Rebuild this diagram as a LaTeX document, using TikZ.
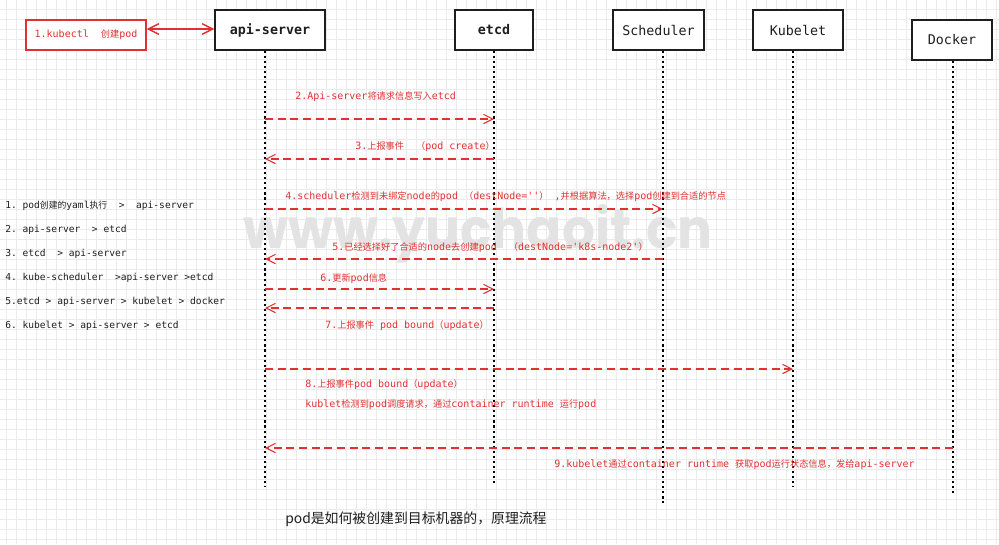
\documentclass[tikz,border=0pt]{standalone}
\usepackage{fontspec}
\setmonofont{DejaVu Sans Mono}
\newfontfamily\cjk{Noto Sans CJK SC}[Scale=0.92]
\newfontfamily\titlefont{Noto Sans CJK SC}
\newfontfamily\wmfont{Poppins}
\usetikzlibrary{arrows.meta}
\newcommand\zh[1]{{\cjk #1}}
\definecolor{exred}{HTML}{E03131}
\definecolor{exblack}{HTML}{1E1E1E}
\tikzset{
  gridline/.style={draw=black!8, line width=0.6pt},
  actor/.style={draw=exblack, line width=0.8pt, fill=white, inner sep=0pt,
    minimum height=30pt, text=exblack, font=\ttfamily\bfseries\fontsize{10}{12}\selectfont},
  lifeline/.style={draw=black, line width=1.6pt, dash pattern=on 1.6pt off 2.2pt},
  msg/.style={draw=exred, line width=0.8pt, dash pattern=on 6pt off 3.5pt,
    -{Straight Barb[length=7pt,width=7pt]}},
  msglabel/.style={text=exred, font=\ttfamily\fontsize{7.5}{9}\selectfont, anchor=west, inner sep=0pt},
  listitem/.style={text=exblack, font=\ttfamily\fontsize{7.2}{9}\selectfont, anchor=west, inner sep=0pt},
}
\begin{document}
\begin{tikzpicture}[x=0.75pt,y=-0.75pt]
\useasboundingbox (0,0) rectangle (999,544);
\fill[white] (0,0) rectangle (999,544);
% grid
\foreach \gx in {6,16,...,996} \draw[gridline] (\gx,0) -- (\gx,544);
\foreach \gy in {9,19,...,539} \draw[gridline] (0,\gy) -- (999,\gy);
% watermark
\node[text=black!11, anchor=base, inner sep=0pt] (wm) at (478,248)
  {\resizebox{352pt}{33pt}{\wmfont\bfseries www.yuchaoit.cn}};
% actors
\node[actor, minimum width=82.5pt] (api) at (270,30) {api-server};
\node[actor, minimum width=58.5pt] (etcd) at (494,30) {etcd};
\node[actor, minimum width=68.25pt, font=\ttfamily\fontsize{10}{12}\selectfont] (sched) at (658.5,30) {Scheduler};
\node[actor, minimum width=67.5pt, font=\ttfamily\fontsize{10}{12}\selectfont] (kubelet) at (798,30) {Kubelet};
\node[actor, minimum width=60pt, font=\ttfamily\fontsize{10}{12}\selectfont] (docker) at (952,40) {Docker};
\node[draw=exred, line width=0.9pt, fill=white, minimum width=90pt, minimum height=22.5pt,
  inner sep=0pt, text=exred, font=\ttfamily\fontsize{7.5}{9}\selectfont] (kubectl) at (86,35)
  {1.kubectl\ \ \zh{创建}pod};
% lifeline ends
\coordinate (apiL) at (265,487);
\coordinate (etcdL) at (494,486);
\coordinate (schedL) at (663,503);
\coordinate (kubeletL) at (793,487);
\coordinate (dockerL) at (953,496);
\draw[lifeline] (api.south -| apiL) -- (apiL);
\draw[lifeline] (etcd.south -| etcdL) -- (etcdL);
\draw[lifeline] (sched.south -| schedL) -- (schedL);
\draw[lifeline] (kubelet.south -| kubeletL) -- (kubeletL);
\draw[lifeline] (docker.south -| dockerL) -- (dockerL);
% kubectl <-> api
\draw[exred, line width=1.1pt, {Straight Barb[length=8pt,width=8pt]}-{Straight Barb[length=8pt,width=8pt]}]
  (kubectl.east |- 0,29) -- (api.west |- 0,29);
% messages
\draw[msg] (apiL |- 0,119) -- (etcdL |- 0,119);
\node[msglabel] (m2) at (295,97) {2.Api-server\zh{将请求信息写入}etcd};
\draw[msg] (etcdL |- 0,159) -- (apiL |- 0,159);
\node[msglabel] (m3) at (355,147) {3.\zh{上报事件}\ \ \zh{（}pod create\zh{）}};
\draw[msg] (apiL |- 0,209) -- (schedL |- 0,209);
\node[msglabel] (m4) at (285,197) {4.scheduler\zh{检测到未绑定}node\zh{的}pod\ \zh{（}destNode=''\zh{）}\ ,\zh{并根据算法，选择}pod\zh{创建到合适的节点}};
\draw[msg] (schedL |- 0,259) -- (apiL |- 0,259);
\node[msglabel] (m5) at (332,248) {5.\zh{已经选择好了合适的}node\zh{去创建}pod\ \ \zh{（}destNode='k8s-node2'\zh{）}};
\draw[msg] (apiL |- 0,289) -- (etcdL |- 0,289);
\node[msglabel] (m6) at (320,279) {6.\zh{更新}pod\zh{信息}};
\draw[msg] (etcdL |- 0,308) -- (apiL |- 0,308);
\node[msglabel] (m7) at (325,326) {7.\zh{上报事件}\ pod bound\zh{（}update\zh{）}};
\draw[msg] (apiL |- 0,369) -- (kubeletL |- 0,369);
\node[msglabel] (m8a) at (305,385) {8.\zh{上报事件}pod bound\zh{（}update\zh{）}};
\node[msglabel] (m8b) at (305,405) {kublet\zh{检测到}pod\zh{调度请求，通过}container runtime\ \zh{运行}pod};
\draw[msg] (dockerL |- 0,448) -- (apiL |- 0,448);
\node[msglabel] (m9) at (554,465) {9.kubelet\zh{通过}container runtime\ \zh{获取}pod\zh{运行状态信息，发给}api-server};
% left list
\node[listitem] (l1) at (5,206) {1.\ pod\zh{创建的}yaml\zh{执行}\ \ >\ \ api-server};
\node[listitem] (l2) at (5,230) {2.\ api-server\ \ >\ etcd};
\node[listitem] (l3) at (5,254) {3.\ etcd\ \ >\ api-server};
\node[listitem] (l4) at (5,278) {4.\ kube-scheduler\ \ >api-server\ >etcd};
\node[listitem] (l5) at (5,302) {5.etcd\ >\ api-server\ >\ kubelet\ >\ docker};
\node[listitem] (l6) at (5,326) {6.\ kubelet\ >\ api-server\ >\ etcd};
% title
\node[anchor=west, inner sep=0pt, text=exblack, font=\titlefont\fontsize{10.4}{12}\selectfont] (title) at (285,519)
  {pod是如何被创建到目标机器的，原理流程};
\end{tikzpicture}
\end{document}
